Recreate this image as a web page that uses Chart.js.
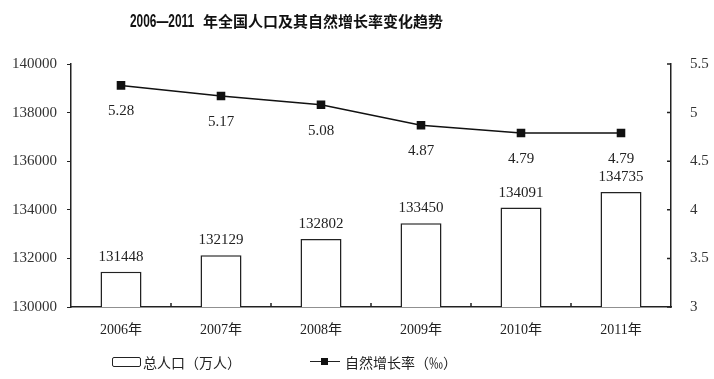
<!DOCTYPE html>
<html>
<head>
<meta charset="utf-8">
<script src="https://cdn.jsdelivr.net/npm/chart.js@4/dist/chart.umd.min.js"></script>
<style>
  html, body { margin: 0; padding: 0; background: #fff; }
  #wrap { position: relative; width: 714px; height: 379px; overflow: hidden; }
  canvas { position: absolute; left: 0; top: 0; }
  .t { position: absolute; top: 10px; font-weight: bold; color: #111; white-space: nowrap; line-height: 22px; }
  #tnum { left: 130px; font-family: 'Liberation Sans', sans-serif; font-size: 18px; transform: scaleX(0.66); transform-origin: left center; }
  #tcjk { left: 203px; font-family: 'Noto Sans CJK SC', sans-serif; font-size: 15px; }
  .lg { position: absolute; top: 352px; font: 14px 'Noto Sans CJK SC',sans-serif; color: #222; white-space: nowrap; line-height: 20px; }
  .box { position: absolute; left: 112px; top: 357px; width: 27px; height: 8px; border: 1.5px solid #222; border-radius: 2px; }
  .ln { position: absolute; left: 310px; top: 361px; width: 30px; height: 0; border-top: 1.5px solid #222; }
  .sq { position: absolute; left: 321px; top: 358px; width: 7px; height: 7px; background: #111; }
</style>
</head>
<body>
<div id="wrap">
  <canvas id="c" width="714" height="379"></canvas>
  <div class="t" id="tnum">2006—2011</div>
  <div class="t" id="tcjk">年全国人口及其自然增长率变化趋势</div>
  <div class="box"></div>
  <div class="lg" style="left:143px">总人口（万人）</div>
  <div class="ln"></div><div class="sq"></div>
  <div class="lg" style="left:345px">自然增长率（‰）</div>
</div>
<script>
const years = ['2006年', '2007年', '2008年', '2009年', '2010年', '2011年'];
const population = [131448, 132129, 132802, 133450, 134091, 134735];
const growthRate = [5.28, 5.17, 5.08, 4.87, 4.79, 4.79];
const popAxis = [130000, 140000, 2000];
const rateAxis = [3, 5.5, 0.5];

const numFont = "'Liberation Serif','Noto Sans CJK SC',serif";

const labelPlugin = {
  id: 'valueLabels',
  afterDatasetsDraw(chart) {
    const ctx = chart.ctx;
    ctx.save();
    ctx.font = '15px ' + numFont;
    ctx.fillStyle = '#222';
    ctx.textAlign = 'center';
    ctx.textBaseline = 'middle';
    chart.data.datasets.forEach((ds, i) => {
      const meta = chart.getDatasetMeta(i);
      meta.data.forEach((el, j) => {
        const v = ds.data[j];
        if (ds.type === 'bar') {
          ctx.fillText(String(v), el.x, el.y - 15);
        } else {
          ctx.fillText(v.toFixed(2), el.x, el.y + 26);
        }
      });
    });
    ctx.restore();
  }
};

// inward tick marks for the category axis and the right axis
const innerTicks = {
  id: 'innerTicks',
  afterDraw(chart) {
    const ctx = chart.ctx, x = chart.scales.x, y1 = chart.scales.y1;
    ctx.save();
    ctx.strokeStyle = '#222';
    ctx.lineWidth = 1.5;
    ctx.beginPath();
    for (let i = 1; i < years.length; i++) {
      const px = (x.getPixelForValue(i - 1) + x.getPixelForValue(i)) / 2;
      ctx.moveTo(px, x.top);
      ctx.lineTo(px, x.top - 4);
    }
    y1.ticks.forEach(t => {
      const py = y1.getPixelForValue(t.value);
      ctx.moveTo(y1.left, py);
      ctx.lineTo(y1.left - 4, py);
    });
    ctx.stroke();
    ctx.restore();
  }
};

new Chart(document.getElementById('c'), {
  data: {
    labels: years,
    datasets: [
      {
        type: 'line', label: '自然增长率（‰）', data: growthRate, yAxisID: 'y1',
        borderColor: '#111', borderWidth: 1.5, pointStyle: 'rect', pointRadius: 5,
        pointBackgroundColor: '#111', pointBorderColor: '#111', tension: 0, order: 0
      },
      {
        type: 'bar', label: '总人口（万人）', data: population, yAxisID: 'y',
        backgroundColor: '#fff', borderColor: '#222', borderWidth: 1.5,
        barPercentage: 0.41, categoryPercentage: 1, order: 1
      }
    ]
  },
  options: {
    responsive: false,
    animation: false,
    layout: { padding: { top: 64, left: 0, right: 0, bottom: 0 } },
    plugins: { legend: { display: false }, tooltip: { enabled: false }, title: { display: false } },
    scales: {
      x: {
        offset: true,
        border: { display: true, color: '#222', width: 1.5 },
        grid: { display: false },
        ticks: { color: '#222', font: { family: numFont, size: 14 }, padding: 7, maxRotation: 0 },
        afterFit(s) { s.height = 72; }
      },
      y: {
        position: 'left', min: popAxis[0], max: popAxis[1],
        border: { display: true, color: '#222', width: 1.5 },
        grid: { drawOnChartArea: false, tickLength: 4, color: '#222' },
        ticks: { stepSize: popAxis[2], color: '#333', font: { family: numFont, size: 15 }, padding: 10, callback: v => String(v) },
        afterFit(s) { s.width = 71; }
      },
      y1: {
        position: 'right', min: rateAxis[0], max: rateAxis[1],
        border: { display: true, color: '#222', width: 1.5 },
        grid: { display: false },
        ticks: { stepSize: rateAxis[2], color: '#333', font: { family: numFont, size: 15 }, padding: 11, callback: v => String(v) },
        afterFit(s) { s.width = 43; }
      }
    }
  },
  plugins: [labelPlugin, innerTicks]
});
</script>
</body>
</html>
